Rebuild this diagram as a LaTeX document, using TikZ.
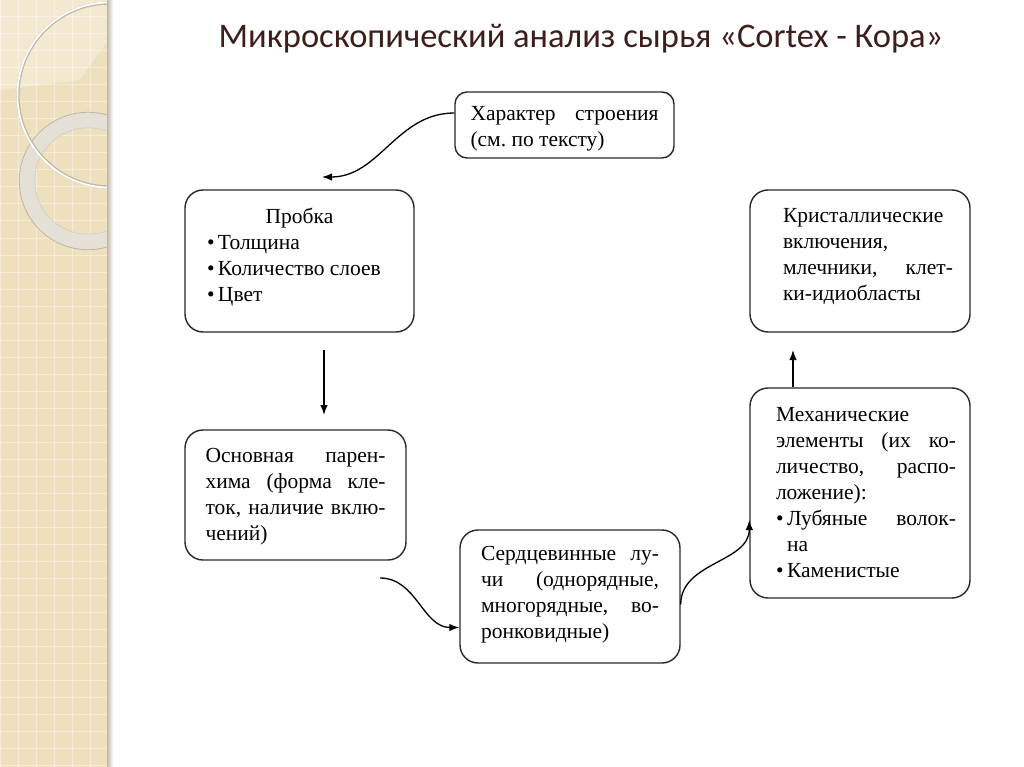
\documentclass[tikz,border=0pt]{standalone}
\usepackage{fontspec}
\setmainfont{Liberation Serif}
\newfontfamily\titlefont{Carlito}
\usetikzlibrary{arrows.meta}
\definecolor{paper}{RGB}{238,224,188}
\definecolor{titlebrown}{RGB}{62,30,26}
\definecolor{boxline}{RGB}{40,40,40}
\definecolor{ringgray}{RGB}{228,224,216}
\definecolor{edgegray}{RGB}{190,182,166}
\newcommand{\itembul}{\hbox to 11pt{\textbullet\hss}}
\tolerance=10000
\hyphenpenalty=10000
\frenchspacing

\begin{document}
\begin{tikzpicture}[x=1pt, y=-1pt,
    box/.style={draw=boxline, line width=1.4pt, rounded corners=18pt, align=justify,
        inner sep=0pt, font=\fontsize{21.5pt}{26pt}\selectfont},
    flow/.style={-{Latex[length=10pt,width=7.5pt]}, line width=1.3pt}]
    \useasboundingbox (0,0) rectangle (1024,767);
    \fill[white] (0,0) rectangle (1024,767);

    \fill[paper] (0,0) rectangle (108,767);
    \foreach \y in {0,17,...,767}
        \draw[white, opacity=.4, line width=1pt] (0,\y) -- (108,\y);
    \foreach \x in {0,18,...,108}
        \draw[white, opacity=.4, line width=1pt] (\x,0) -- (\x,767);
    \fill[white, opacity=.3] (0,0) -- (108,0) -- (108,40) -- (80,80) -- (0,90) -- cycle;
    \begin{scope}
        \clip (0,0) rectangle (108,767);
        \fill[ringgray, opacity=.9, even odd rule] (88,181) circle[radius=68.7pt] (88,181) circle[radius=53.2pt];
        \draw[edgegray, line width=.8pt] (88,181) circle[radius=68.7pt];
        \draw[edgegray!70, line width=.6pt] (88,181) circle[radius=53.2pt];
        \draw[edgegray, line width=3.2pt] (110,95) circle[radius=92pt];
        \draw[white, line width=1.8pt] (110,95) circle[radius=92.6pt];
    \end{scope}
    \shade[left color=edgegray, right color=white] (107,0) rectangle (113,767);

    \node[font=\titlefont\fontsize{34.5pt}{40pt}\selectfont, text=titlebrown, anchor=base] (title) at (581,48)
        {Микроскопический анализ сырья «Cortex - Кора»};

    \node[box, rounded corners=12pt, minimum width=219pt, minimum height=66pt, text width=188pt] (stroenie) at (564.5,125)
        {Характер строения\linebreak(см. по тексту)\par\kern-8pt};
    \node[box, minimum width=229pt, minimum height=142pt, text width=185pt] (probka) at (299.5,261)
        {\hspace*{\fill}Пробка\hspace*{\fill}\newline\itembul Толщина\newline\itembul Количество слоев\newline\itembul Цвет\par\kern8pt};
    \node[box, minimum width=220pt, minimum height=142pt, text width=186pt] (kristall) at (860,261)
        {\leftskip=16pt Кристаллические\newline включения,\newline млечники, клет-\linebreak ки-идиобласты\par\kern9pt};
    \node[box, minimum width=221pt, minimum height=130pt, text width=180pt] (parenhima) at (295.5,495)
        {Основная парен-\linebreak хима (форма кле-\linebreak ток, наличие вклю-\linebreak чений)\par\kern-4pt};
    \node[box, minimum width=220pt, minimum height=133pt, text width=178pt] (serdce) at (570,596.5)
        {Сердцевинные лу-\linebreak чи (однорядные,\linebreak многорядные, во-\linebreak ронковидные)\par\kern3pt};
    \node[box, minimum width=220pt, minimum height=210pt, text width=192pt] (mech) at (860,493)
        {\leftskip=12pt Механические\newline элементы (их ко-\linebreak личество, распо-\linebreak ложение):\newline
        \itembul Лубяные волок-\linebreak\hspace*{11pt}на\newline\itembul Каменистые\par};

    \coordinate (a1) at (322,177);
    \coordinate (b0) at (324,350);
    \coordinate (b1) at (324,415);
    \coordinate (c0) at (380,578);
    \coordinate (e1) at (793,350);
    \draw[flow] ([yshift=12pt]stroenie.west) to[out=180, in=0] (a1);
    \draw[flow] (b0) -- (b1);
    \draw[flow] (c0) to[out=0, in=180] ([yshift=-31pt]serdce.west);
    \draw[flow] ([yshift=-8pt]serdce.east) to[out=90, in=-90] ([yshift=-27pt]mech.west);
    \draw[flow] (mech.north -| e1) -- (e1);
\end{tikzpicture}
\end{document}
